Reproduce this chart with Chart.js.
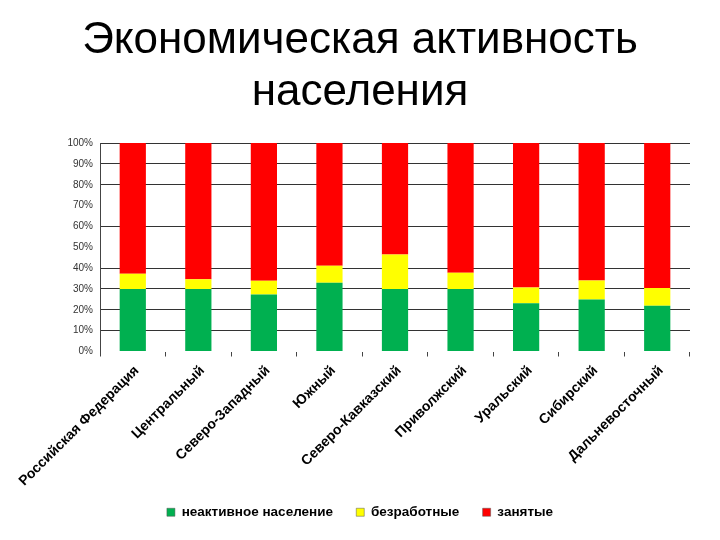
<!DOCTYPE html>
<html>
<head>
<meta charset="utf-8">
<script src="https://cdn.jsdelivr.net/npm/chart.js@4.4.1/dist/chart.umd.min.js"></script>
<style>
  html, body { margin: 0; padding: 0; background: #fff; }
  #wrap { width: 720px; height: 540px; }
</style>
</head>
<body>
<div id="wrap"><canvas id="c" width="720" height="540"></canvas></div>
<script>
// Экономическая активность населения — 100% stacked bars by federal district
const regions = [
  'Российская Федерация', 'Центральный', 'Северо-Западный', 'Южный',
  'Северо-Кавказский', 'Приволжский', 'Уральский', 'Сибирский', 'Дальневосточный'
];
const inactive   = [30.0, 30.0, 27.3, 33.0, 30.0, 30.0, 23.2, 24.9, 21.9];
const unemployed = [7.3, 4.7, 6.6, 8.2, 16.6, 7.8, 7.5, 9.2, 8.6];
const employed   = [62.7, 65.3, 66.1, 58.8, 53.4, 62.2, 69.3, 65.9, 69.5];
const yTicks = [0, 10, 20, 30, 40, 50, 60, 70, 80, 90, 100];
const hiddenGrid = [50, 70]; // these lines are missing in the original picture

const FONT = 'Arial, "Liberation Sans", sans-serif';
const GAP = '\u00A0\u00A0\u00A0'; // extra room between legend items, kept off the last one

new Chart(document.getElementById('c').getContext('2d'), {
  type: 'bar',
  data: {
    labels: regions,
    datasets: [
      { label: 'неактивное население', data: inactive,   backgroundColor: '#00B050' },
      { label: 'безработные',          data: unemployed, backgroundColor: '#FFFF00' },
      { label: 'занятые',              data: employed,   backgroundColor: '#FF0000' },
    ],
  },
  options: {
    responsive: false,
    animation: false,
    devicePixelRatio: 1,
    layout: { padding: { left: 0, right: 0, top: 0, bottom: 11 } },
    datasets: { bar: { categoryPercentage: 1, barPercentage: 0.4 } },
    plugins: {
      title: {
        display: true,
        text: ['Экономическая активность', 'населения'],
        color: '#000',
        font: { family: FONT, size: 44, weight: 'normal', lineHeight: 1.2 },
        padding: { top: 14, bottom: 23.5 },
      },
      legend: {
        position: 'bottom',
        labels: {
          color: '#000',
          boxWidth: 8, boxHeight: 8,
          padding: 12,
          font: { family: FONT, size: 13.5, weight: 'bold' },
          generateLabels: chart => chart.data.datasets.map((d, i, all) => ({
            text: d.label + (i < all.length - 1 ? GAP : ''),
            fillStyle: d.backgroundColor, strokeStyle: '#555',
            lineWidth: 0.5, datasetIndex: i, fontColor: '#000',
          })),
        },
      },
      tooltip: { enabled: false },
    },
    scales: {
      x: {
        stacked: true,
        afterFit: axis => { axis.height = 142; },
        border: { display: false },
        grid: { offset: true, drawOnChartArea: false, drawTicks: true, tickLength: 5, color: '#444' },
        ticks: {
          autoSkip: false, maxRotation: 45, minRotation: 45, padding: 6, labelOffset: 4,
          color: '#000', font: { family: FONT, size: 14, weight: 'bold' },
        },
      },
      y: {
        stacked: true,
        min: 0, max: 100,
        afterFit: axis => { axis.width = 100; },
        afterBuildTicks: axis => { axis.ticks = yTicks.map(v => ({ value: v })); },
        border: { display: true, color: '#444' },
        grid: {
          drawTicks: false,
          color: ctx => (hiddenGrid.includes(ctx.tick && ctx.tick.value) || ctx.tick.value === 0) ? 'rgba(0,0,0,0)' : '#333',
        },
        ticks: {
          padding: 7, color: '#333',
          font: { family: FONT, size: 10 },
          callback: v => v + '%',
        },
      },
      // empty right-hand strip so the plot ends at x=690 while title and legend stay centred on the page
      yRight: {
        position: 'right',
        min: 0, max: 100,
        afterFit: axis => { axis.width = 30; },
        border: { display: false },
        grid: { display: false },
        ticks: { display: false },
      },
    },
  },
});
</script>
</body>
</html>
